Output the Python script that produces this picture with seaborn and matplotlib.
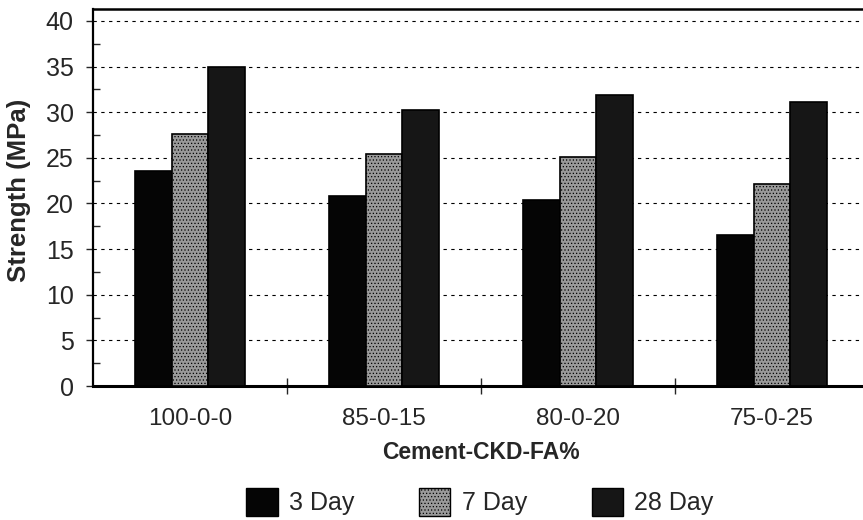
import matplotlib
matplotlib.use("Agg")
import matplotlib.pyplot as plt
import seaborn as sns
import pandas as pd
import numpy as np
from matplotlib.patches import Patch

mixes = ["100-0-0", "85-0-15", "80-0-20", "75-0-25"]
ages = ["3 Day", "7 Day", "28 Day"]
day3 = [23.6, 20.8, 20.4, 16.5]
day7 = [27.6, 25.4, 25.1, 22.1]
day28 = [35.0, 30.2, 31.9, 31.1]

rows = []
for vals, age in zip([day3, day7, day28], ages):
    for m, v in zip(mixes, vals):
        rows.append({"mix": m, "age": age, "strength": v})
df = pd.DataFrame(rows)

sns.set_style("white")
plt.rcParams['font.family'] = ['Liberation Sans', 'DejaVu Sans']
plt.rcParams['hatch.color'] = '#303030'
plt.rcParams['hatch.linewidth'] = 0.5

fig = plt.figure(figsize=(8.63, 5.2), dpi=100)
ax = fig.add_axes([93/863, 1-386/520, 776/863, 377/520])

face = {"3 Day": "#050505", "7 Day": "#9a9a9a", "28 Day": "#161616"}
sns.barplot(data=df, x="mix", y="strength", hue="age", order=mixes,
            hue_order=ages, palette=face, width=0.57, gap=0,
            edgecolor="black", linewidth=1.2, saturation=1, ax=ax,
            legend=False, zorder=3)

hatches = {"3 Day": None, "7 Day": ".....", "28 Day": None}
for cont, age in zip(ax.containers, ages):
    for p in cont:
        if hatches[age]:
            p.set_hatch(hatches[age])

ax.set_xlim(-0.5, 3.5)
ax.set_ylim(0, 41.3)
ax.set_yticks(np.arange(0, 41, 5))
ax.set_yticks(np.arange(2.5, 40, 5), minor=True)
ax.tick_params(axis="y", which="major", direction="out", length=5, width=1,
               labelsize=18, pad=9, left=True)
ax.tick_params(axis="y", which="minor", direction="in", length=5, width=1, left=True)

ax.set_xticks(range(len(mixes)))
ax.set_xticklabels(mixes)
ax.set_xticks([0.5, 1.5, 2.5], minor=True)
ax.tick_params(axis="x", which="major", length=0, labelsize=17.5, pad=16)
ax.tick_params(axis="x", which="minor", direction="inout", length=12, width=1, bottom=True)

for y in np.arange(5, 41, 5):
    ax.axhline(y, color="black", lw=0.8, ls=(0, (3, 4)), zorder=1)

for s in ["left", "bottom", "top"]:
    ax.spines[s].set_visible(True)
    ax.spines[s].set_color("black")
ax.spines["left"].set_linewidth(1.6)
ax.spines["bottom"].set_linewidth(2.2)
ax.spines["top"].set_linewidth(1.8)
ax.spines["right"].set_visible(False)

ax.set_ylabel("Strength (MPa)", fontsize=18.5, fontweight="bold")
ax.yaxis.set_label_coords(-0.08, 0.52)
ax.set_xlabel("Cement-CKD-FA%", fontsize=16.5, fontweight="bold", labelpad=8)

handles = [Patch(facecolor=face[a], edgecolor="black", hatch=hatches[a]) for a in ages]
fig.legend(handles, ages, loc="center", bbox_to_anchor=(480/863, 1-502/520),
           ncol=3, frameon=False, fontsize=18, handlelength=1.25, handleheight=1.3,
           columnspacing=2.6, handletextpad=0.45)

fig.savefig("out.png", dpi=100)
